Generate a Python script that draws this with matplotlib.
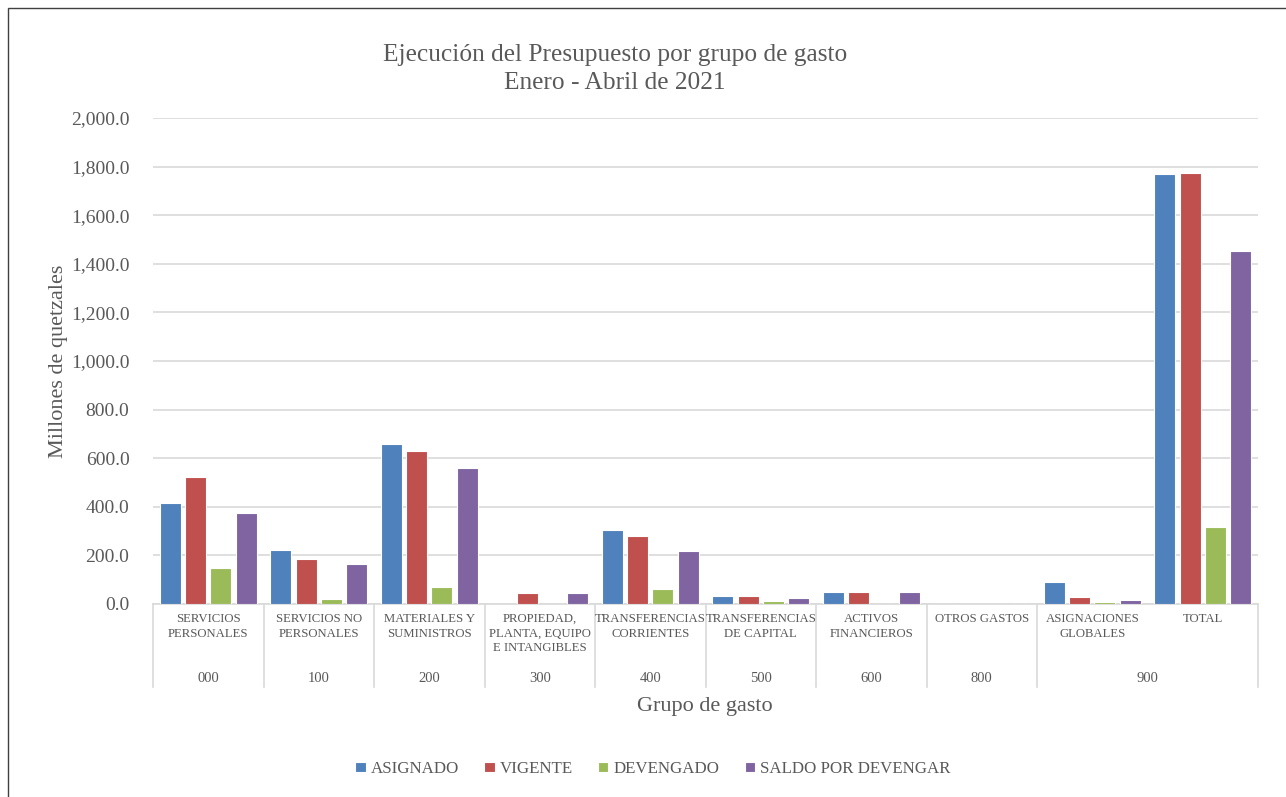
import numpy as np
import matplotlib
matplotlib.use("Agg")
import matplotlib.pyplot as plt
from matplotlib.patches import Rectangle
from matplotlib.transforms import blended_transform_factory
from matplotlib.ticker import FuncFormatter

plt.rcParams['font.family'] = ['Liberation Serif', 'DejaVu Serif']

# data (millones de quetzales)
categorias = ["SERVICIOS\nPERSONALES", "SERVICIOS NO\nPERSONALES", "MATERIALES Y\nSUMINISTROS",
              "PROPIEDAD,\nPLANTA, EQUIPO\nE INTANGIBLES", "TRANSFERENCIAS\nCORRIENTES",
              "TRANSFERENCIAS\nDE CAPITAL", "ACTIVOS\nFINANCIEROS", "OTROS GASTOS",
              "ASIGNACIONES\nGLOBALES", "TOTAL"]
grupos = ["000", "100", "200", "300", "400", "500", "600", "800", "900"]
grupo_span = [1, 1, 1, 1, 1, 1, 1, 1, 2]   # how many categories each code covers

asignado = [414, 221, 657, 0, 306, 32, 51, 0, 89, 1770]
vigente = [522, 184, 631, 45, 280, 34, 51, 0, 28, 1775]
devengado = [148, 20, 70, 0, 62, 11, 0, 0, 10, 317]
saldo = [373, 164, 561, 44, 218, 25, 51, 0, 18, 1454]

series = ["ASIGNADO", "VIGENTE", "DEVENGADO", "SALDO POR DEVENGAR"]
colores = ["#4F81BD", "#C0504D", "#9BBB59", "#8064A2"]
txt = "#595959"

fig = plt.figure(figsize=(12.86, 7.97), dpi=100)
W, H = 1286, 797
ax = fig.add_axes([153 / W, 1 - 604 / H, (1258 - 153) / W, (604 - 118) / H])

x = np.arange(len(categorias))
slot = 0.229
for i, (vals, nombre, c) in enumerate(zip([asignado, vigente, devengado, saldo], series, colores)):
    ax.bar(x + (i - 1.5) * slot, vals, width=0.19, color=c, edgecolor="white",
           linewidth=0.8, label=nombre, zorder=3)

ax.set_xlim(-0.5, len(categorias) - 0.5)
ax.set_ylim(0, 2000)
ax.set_yticks(np.arange(0, 2001, 200))
ax.yaxis.set_major_formatter(FuncFormatter(lambda v, p: f"{v:,.1f}"))
ax.tick_params(axis="y", length=0, labelsize=14, labelcolor=txt, pad=17)
ax.set_xticks([])
ax.grid(axis="y", color="#d9d9d9", linewidth=1.2, zorder=0)
for s in ["top", "right", "left"]:
    ax.spines[s].set_visible(False)
ax.spines["bottom"].set_color("#d9d9d9")
ax.spines["bottom"].set_linewidth(1.2)

# multi-level category axis
tr = blended_transform_factory(ax.transData, fig.transFigure)
for xi, lab in zip(x, categorias):
    ax.text(xi, 1 - 613 / H, lab, transform=tr, ha="center", va="top",
            fontsize=9.2, color=txt, linespacing=1.3)
bordes = [-0.5]
pos = -0.5
for g, n in zip(grupos, grupo_span):
    ax.text(pos + n / 2, 1 - 679 / H, g, transform=tr, ha="center", va="center",
            fontsize=10.5, color=txt)
    pos += n
    bordes.append(pos)
for b in bordes:
    ax.plot([b, b], [1 - 604 / H, 1 - 687 / H], transform=tr, color="#d9d9d9",
            linewidth=1.2, clip_on=False)

ax.set_ylabel("Millones de quetzales", fontsize=16, color=txt, va="center")
ax.yaxis.set_label_coords((58 - 153) / 1105, 0.5)
fig.text(705 / W, 1 - 706 / H, "Grupo de gasto", ha="center", va="center",
         fontsize=16, color=txt)
fig.text(615 / W, 1 - 69 / H, "Ejecución del Presupuesto por grupo de gasto\nEnero - Abril de 2021",
         ha="center", va="center", fontsize=18.3, color=txt, linespacing=1.36)

fig.legend(loc="center", bbox_to_anchor=(653 / W, 1 - 769 / H), ncol=4, frameon=False,
           fontsize=12.2, labelcolor=txt, handlelength=0.6, handleheight=0.6,
           handletextpad=0.3, columnspacing=1.5)

fig.patches.append(Rectangle((8 / W, -0.1), 1.2, 1.1 - 8 / H, transform=fig.transFigure,
                             fill=False, edgecolor="#404040", linewidth=1))

fig.savefig("out.png", dpi=100)
